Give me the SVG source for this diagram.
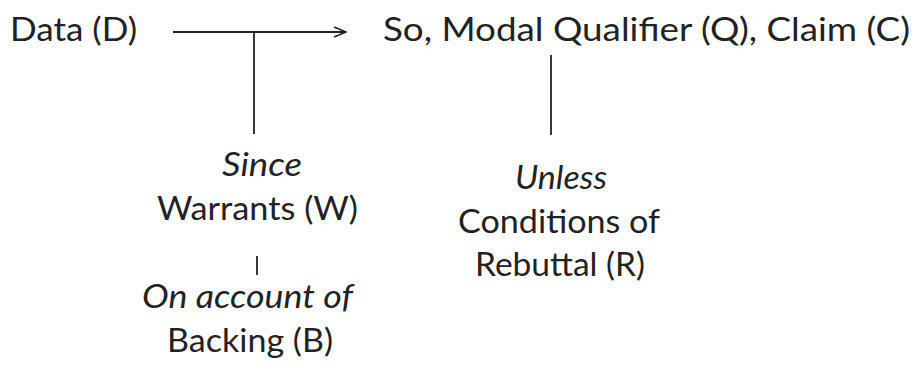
<svg xmlns="http://www.w3.org/2000/svg" width="919" height="375" viewBox="0 0 919 375">
<defs>
<style>
text{font-family:Lato,"Open Sans",sans-serif;font-size:33px;fill:#222;}
.it{font-style:italic;}
.ln{stroke:#222;stroke-width:1.8;fill:none;}
</style>
<marker id="arr" markerWidth="14" markerHeight="12" refX="13" refY="6" orient="auto" markerUnits="userSpaceOnUse">
<path d="M1,1 L13,6 L1,11" fill="none" stroke="#222" stroke-width="1.6"/>
</marker>
</defs>
<rect width="919" height="375" fill="#fff"/>
<g id="connectors">
<line class="ln" x1="173" y1="32" x2="346" y2="32" marker-end="url(#arr)"/>
<line class="ln" x1="254" y1="32" x2="254" y2="134"/>
<line class="ln" x1="551" y1="55" x2="551" y2="135"/>
<line class="ln" x1="257" y1="256" x2="257" y2="275"/>
</g>
<g id="data"><text x="10" y="41" textLength="127" lengthAdjust="spacingAndGlyphs">Data (D)</text></g>
<g id="claim"><text x="383" y="41" textLength="527" lengthAdjust="spacingAndGlyphs">So, Modal Qualifier (Q), Claim (C)</text></g>
<g id="warrant">
<text class="it" x="222" y="176" textLength="80" lengthAdjust="spacingAndGlyphs">Since</text>
<text x="157" y="220" textLength="201" lengthAdjust="spacingAndGlyphs">Warrants (W)</text>
</g>
<g id="backing">
<text class="it" x="142" y="308" textLength="211" lengthAdjust="spacingAndGlyphs">On account of</text>
<text x="167" y="352" textLength="166" lengthAdjust="spacingAndGlyphs">Backing (B)</text>
</g>
<g id="rebuttal">
<text class="it" x="515" y="189" textLength="92" lengthAdjust="spacingAndGlyphs">Unless</text>
<text x="458" y="233" textLength="202" lengthAdjust="spacingAndGlyphs">Conditions of</text>
<text x="475" y="276" textLength="170" lengthAdjust="spacingAndGlyphs">Rebuttal (R)</text>
</g>
</svg>
